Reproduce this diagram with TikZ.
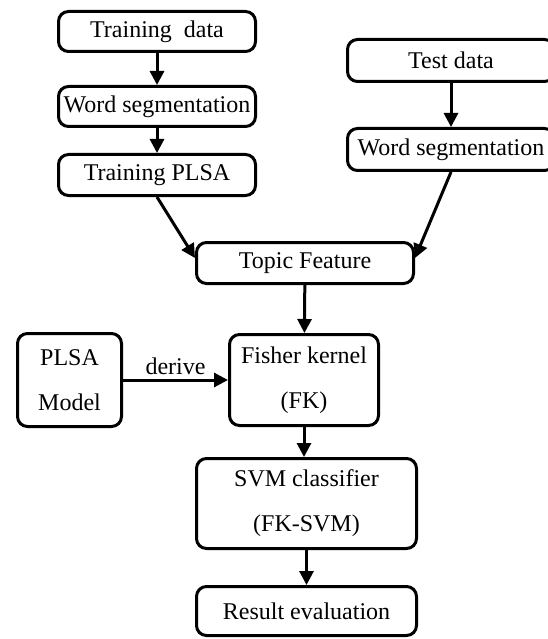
\documentclass[tikz,border=0pt]{standalone}
\usepackage{fontspec}
\setmainfont{Liberation Serif}
\usetikzlibrary{arrows.meta}

\begin{document}
\begin{tikzpicture}[x=1pt,y=-1pt,>={Triangle[length=14pt,width=14pt]},
    box/.style={draw,line width=3pt,rounded corners=10pt,inner sep=0pt,align=center,
      font=\fontsize{24}{45}\selectfont},
    link/.style={->,line width=3pt}]
    \useasboundingbox (0,0) rectangle (547,639);
    % training branch
    \node[box,minimum width=197pt,minimum height=40pt] (train) at (157,31.5) {Training~~data};
    \node[box,minimum width=197pt,minimum height=40pt] (segl)  at (157,106.5) {Word segmentation};
    \node[box,minimum width=197pt,minimum height=41pt] (tplsa) at (157,175) {Training PLSA};
    % test branch
    \node[box,minimum width=207pt,minimum height=42pt] (test)  at (451,60.5) {Test data};
    \node[box,minimum width=207pt,minimum height=42pt] (segr)  at (451,149.5) {Word segmentation};
    % main column
    \node[box,minimum width=217pt,minimum height=41pt] (topic) at (305,263) {Topic Feature};
    \node[box,minimum width=104pt,minimum height=93pt] (model) at (69.5,380) {PLSA\\Model};
    \node[box,minimum width=149pt,minimum height=91pt] (fk)    at (304,380) {Fisher kernel\\(FK)};
    \node[box,minimum width=220pt,minimum height=90pt] (svm)   at (306.5,503.5) {SVM classifier\\(FK-SVM)};
    \node[box,minimum width=220pt,minimum height=49pt] (eval)  at (306.5,611) {Result evaluation};
    \draw[link] (train) -- (segl);
    \draw[link] (segl) -- (tplsa);
    \draw[link] (test) -- (segr);
    \draw[link] (tplsa.south) -- ([yshift=5pt]topic.west);
    \draw[link] (segr.south) -- ([yshift=5pt]topic.east);
    \draw[link] (topic) -- (fk);
    \draw[link] (model) -- node[above,font=\fontsize{24}{29}\selectfont] (derive) {derive} (fk);
    \draw[link] (fk.south) -- (fk.south |- svm.north);
    \draw[link] (svm) -- (eval);
\end{tikzpicture}
\end{document}
